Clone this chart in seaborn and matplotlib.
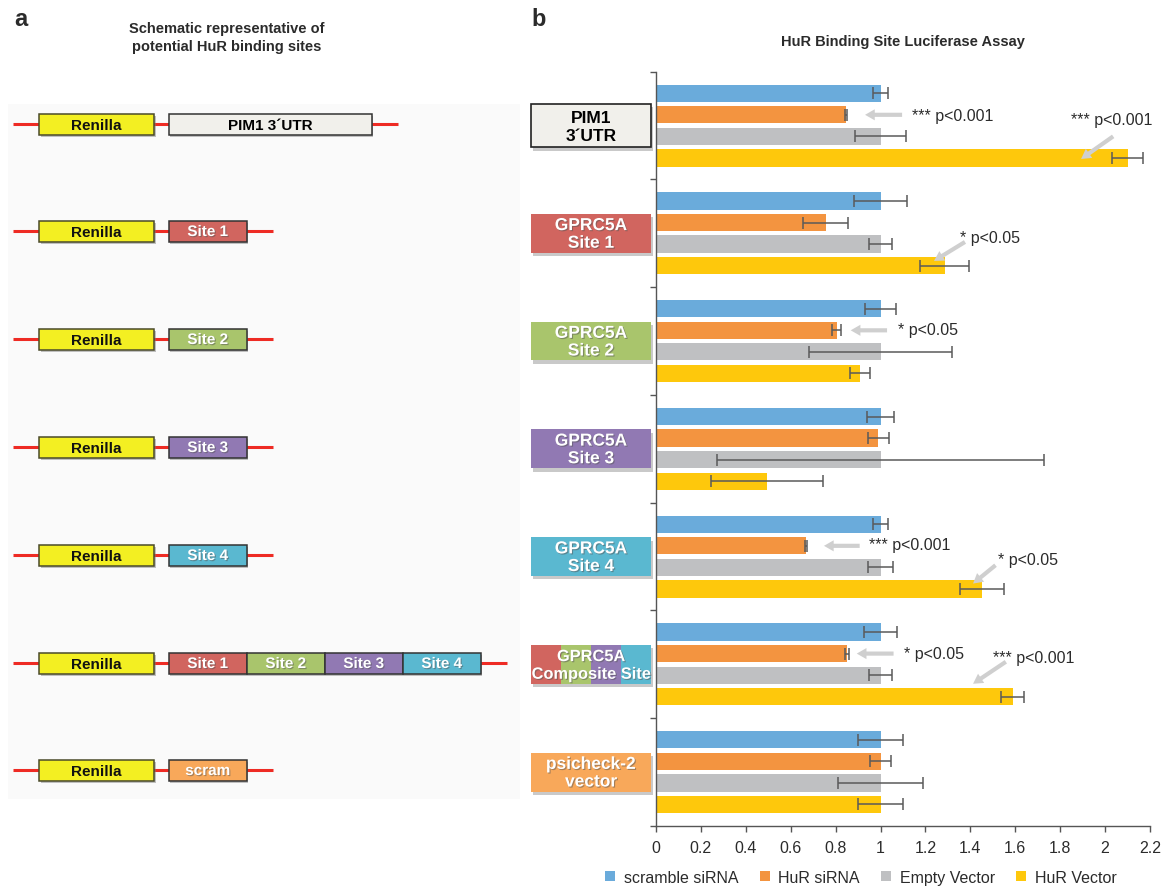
import numpy as np
import pandas as pd
import matplotlib
matplotlib.use("Agg")
import matplotlib.pyplot as plt
import matplotlib.patheffects as pe
import matplotlib.transforms as mtransforms
from matplotlib.patches import Rectangle
from matplotlib.ticker import FuncFormatter
import seaborn as sns

# ---------------------------------------------------------------- data
constructs = ["PIM1 3\u00b4UTR", "GPRC5A Site 1", "GPRC5A Site 2", "GPRC5A Site 3",
              "GPRC5A Site 4", "GPRC5A Composite Site", "psicheck-2 vector"]
conditions = ["scramble siRNA", "HuR siRNA", "Empty Vector", "HuR Vector"]

scramble_sirna = [1.00, 1.00, 1.00, 1.00, 1.00, 1.00, 1.00]
hur_sirna      = [0.847, 0.756, 0.806, 0.99, 0.669, 0.85, 1.00]
empty_vector   = [1.00, 1.00, 1.00, 1.00, 1.00, 1.00, 1.00]
hur_vector     = [2.10, 1.286, 0.91, 0.495, 1.452, 1.588, 1.00]

scramble_err   = [0.035, 0.12, 0.07, 0.06, 0.035, 0.075, 0.10]
hur_sirna_err  = [0.005, 0.10, 0.02, 0.047, 0.005, 0.01, 0.045]
empty_err      = [0.115, 0.05, 0.32, 0.73, 0.055, 0.05, 0.19]
hur_vector_err = [0.07, 0.11, 0.045, 0.25, 0.10, 0.05, 0.10]

x_ticks = [0, 0.2, 0.4, 0.6, 0.8, 1.0, 1.2, 1.4, 1.6, 1.8, 2.0, 2.2]

# ---------------------------------------------------------------- style
C_BLUE, C_ORANGE, C_GRAY, C_YELLOW = "#6aabdb", "#f39440", "#bfc0c2", "#fec80c"
C_S1, C_S2, C_S3, C_S4 = "#d1655f", "#a9c56c", "#9179b3", "#5ab8d0"
C_SCRAM, C_RENILLA, C_PIM1, C_LINE = "#f8a85a", "#f3ef22", "#f1f0eb", "#ee2b24"
TXT = "#2b2b2b"

sns.set_style("ticks")
plt.rcParams["font.family"] = ["Liberation Sans", "DejaVu Sans"]

W, H = 1163, 887
fig = plt.figure(figsize=(W / 100, H / 100), dpi=100)

values = [scramble_sirna, hur_sirna, empty_vector, hur_vector]
errors = [scramble_err, hur_sirna_err, empty_err, hur_vector_err]
df = pd.DataFrame({
    "construct": np.tile(constructs, len(conditions)),
    "condition": np.repeat(conditions, len(constructs)),
    "value": np.concatenate(values),
})

# ---------------------------------------------------------------- panel b
ax = fig.add_axes([656 / W, 1 - 827 / H, 494 / W, (827 - 72.7) / H])
sns.barplot(data=df, x="value", y="construct", hue="condition", orient="h",
            order=constructs, hue_order=conditions,
            palette=[C_BLUE, C_ORANGE, C_GRAY, C_YELLOW],
            width=0.8, gap=0.2, errorbar=None, saturation=1,
            linewidth=0, ax=ax)

for cont, errs in zip(ax.containers, errors):
    for bar in cont:
        yc = bar.get_y() + bar.get_height() / 2
        idx = int(np.rint(yc))
        ax.errorbar(bar.get_width(), yc, xerr=errs[idx], fmt="none",
                    ecolor="#5a5a5a", elinewidth=1.1, capsize=4.5,
                    capthick=1.1, zorder=5)

ax.set_xlim(0, 2.2)
ax.set_ylim(6.5, -0.5)
ax.set_xticks(x_ticks)
ax.xaxis.set_major_formatter(FuncFormatter(lambda v, p: f"{v:g}"))
ax.set_yticks(np.arange(-0.5, 7.0, 1.0))
ax.set_yticklabels([])
ax.set_xlabel("")
ax.set_ylabel("")
ax.tick_params(axis="x", length=4, width=1, color="#555555", pad=6,
               labelsize=11.5, labelcolor=TXT)
ax.tick_params(axis="y", length=4, width=1, color="#555555")
for s in ("top", "right"):
    ax.spines[s].set_visible(False)
for s in ("left", "bottom"):
    ax.spines[s].set_color("#555555")
    ax.spines[s].set_linewidth(1.0)

handles, labels = ax.get_legend_handles_labels()
ax.get_legend().remove()
ax.legend(handles, labels, loc="center", bbox_to_anchor=(0.415, -0.068),
          ncol=4, frameon=False, fontsize=11.5, handlelength=0.6,
          handleheight=0.6, handletextpad=0.55, columnspacing=1.35,
          labelcolor=TXT)

# construct labels drawn as coloured boxes beside the y axis
blend = mtransforms.blended_transform_factory(ax.transAxes, ax.transData)
box_x0, box_w = -0.253, 0.243
shadow = [pe.SimplePatchShadow(offset=(1.5, -2.5), shadow_rgbFace="#888888", alpha=0.45), pe.Normal()]
txt_shadow = [pe.withSimplePatchShadow(offset=(0.8, -0.8), shadow_rgbFace="#555555", alpha=0.5)]
label_boxes = [
    ("PIM1\n3\u00b4UTR", [C_PIM1], "black", 0.40, 12.5),
    ("GPRC5A\nSite 1", [C_S1], "white", 0.36, 12.5),
    ("GPRC5A\nSite 2", [C_S2], "white", 0.36, 12.5),
    ("GPRC5A\nSite 3", [C_S3], "white", 0.36, 12.5),
    ("GPRC5A\nSite 4", [C_S4], "white", 0.36, 12.5),
    ("GPRC5A\nComposite Site", [C_S1, C_S2, C_S3, C_S4], "white", 0.36, 11.8),
    ("psicheck-2\nvector", [C_SCRAM], "white", 0.36, 12.5),
]
for i, (lab, cols, tcol, bh, fs) in enumerate(label_boxes):
    seg = box_w / len(cols)
    for k, c in enumerate(cols):
        r = Rectangle((box_x0 + k * seg, i - bh / 2), seg, bh, transform=blend,
                      facecolor=c, edgecolor="#222222" if tcol == "black" else "none",
                      linewidth=1.2, clip_on=False, zorder=3,
                      path_effects=shadow)
        ax.add_patch(r)
    ax.text(box_x0 + box_w / 2, i + 0.01, lab, transform=blend, ha="center", va="center",
            fontsize=fs, fontweight="bold", color=tcol, linespacing=1.22,
            zorder=4, path_effects=None if tcol == "black" else txt_shadow)

# significance markers: (label, text position, arrow tail, arrow tip)
sig_marks = [
    ("*** p<0.001", (1.14, -0.09), (1.096, -0.10), (0.931, -0.10)),
    ("*** p<0.001", (1.85, -0.06), (2.036, 0.10), (1.893, 0.31)),
    ("* p<0.05", (1.354, 1.04), (1.376, 1.08), (1.238, 1.256)),
    ("* p<0.05", (1.076, 1.89), (1.029, 1.90), (0.867, 1.90)),
    ("*** p<0.001", (0.949, 3.89), (0.907, 3.90), (0.748, 3.90)),
    ("* p<0.05", (1.521, 4.03), (1.512, 4.08), (1.412, 4.25)),
    ("* p<0.05", (1.103, 4.90), (1.058, 4.90), (0.894, 4.90)),
    ("*** p<0.001", (1.503, 4.94), (1.558, 4.976), (1.412, 5.18)),
]
for lab, txy, tail, tip in sig_marks:
    ax.annotate("", xy=tip, xytext=tail, zorder=6,
                arrowprops=dict(arrowstyle="simple,head_length=0.7,head_width=0.8,tail_width=0.3",
                                fc="#cfcfcf", ec="none", shrinkA=0, shrinkB=0))
    ax.text(txy[0], txy[1], lab, ha="left", va="center", fontsize=11.5,
            color=TXT, zorder=6)

fig.text(903 / W, 1 - 42 / H, "HuR Binding Site Luciferase Assay", ha="center",
         va="center", fontsize=10.5, fontweight="bold", color=TXT)
fig.text(531 / W, 1 - 19 / H, "b", ha="left", va="center", fontsize=17,
         fontweight="bold", color=TXT)

# ---------------------------------------------------------------- panel a
axa = fig.add_axes([0, 0, 520 / W, 1])
axa.set_xlim(0, 520)
axa.set_ylim(H, 0)
axa.axis("off")
axa.add_patch(Rectangle((8, 105), 512, 695, facecolor="#fafafa", edgecolor="none", zorder=0))

fig.text(14 / W, 1 - 19 / H, "a", ha="left", va="center", fontsize=17,
         fontweight="bold", color=TXT)
fig.text(227 / W, 1 - 38 / H, "Schematic representative of\npotential HuR binding sites",
         ha="center", va="center", fontsize=10.5, fontweight="bold", color=TXT,
         linespacing=1.3)

row_y = [125, 232, 340, 448, 556, 664, 771]
inserts = [
    [("PIM1 3\u00b4UTR", C_PIM1, "black", 203)],
    [("Site 1", C_S1, "white", 78)],
    [("Site 2", C_S2, "white", 78)],
    [("Site 3", C_S3, "white", 78)],
    [("Site 4", C_S4, "white", 78)],
    [("Site 1", C_S1, "white", 78), ("Site 2", C_S2, "white", 78),
     ("Site 3", C_S3, "white", 78), ("Site 4", C_S4, "white", 78)],
    [("scram", C_SCRAM, "white", 78)],
]
bh = 21
box_shadow = [pe.SimplePatchShadow(offset=(1.2, -1.5), shadow_rgbFace="#777777", alpha=0.45), pe.Normal()]
for y, ins in zip(row_y, inserts):
    total = sum(s[3] for s in ins)
    axa.plot([13, 168.7 + total + 26], [y, y], color=C_LINE, lw=2.2, zorder=1,
             solid_capstyle="butt")
    axa.add_patch(Rectangle((39, y - bh / 2), 115, bh, facecolor=C_RENILLA,
                            edgecolor="#4a4a2a", lw=1.1, zorder=2, path_effects=box_shadow))
    axa.text(39 + 115 / 2, y + 1, "Renilla", ha="center", va="center", fontsize=11,
             fontweight="bold", color="#111111", zorder=3)
    x = 168.7
    for lab, col, tcol, w in ins:
        axa.add_patch(Rectangle((x, y - bh / 2), w, bh, facecolor=col,
                                edgecolor="#333333", lw=1.1, zorder=2, path_effects=box_shadow))
        axa.text(x + w / 2, y + 1, lab, ha="center", va="center", fontsize=11,
                 fontweight="bold", color=tcol, zorder=3,
                 path_effects=None if tcol == "black" else txt_shadow)
        x += w

fig.savefig("out.png", dpi=100)
